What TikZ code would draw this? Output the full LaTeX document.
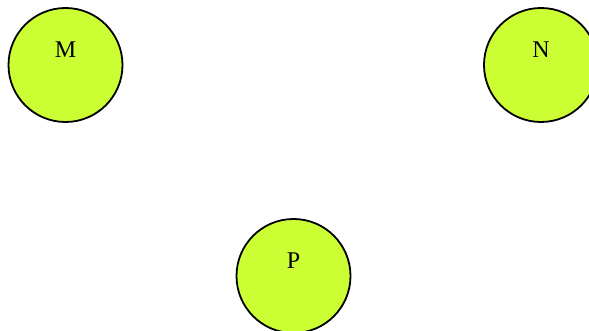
\documentclass[tikz,border=0pt]{standalone}
\usepackage{fontspec}
\setmainfont{Liberation Serif}
\usetikzlibrary{positioning}
\definecolor{limefill}{HTML}{CCFF33}
\begin{document}
\begin{tikzpicture}[x=1pt, y=1pt]
    \tikzset{
        ball/.style={circle, draw=black, line width=1.8pt, fill=limefill,
            minimum size=114pt, inner sep=0pt},
        ball label/.style={font=\fontsize{24}{28}\selectfont, text=black, yshift=15pt}
    }
    \useasboundingbox (0,0) rectangle (589,-331);

    \node[ball, label={[ball label]center:M}] (m) at (65.5,-65) {};
    \node[ball, label={[ball label]center:N}] (n) at (541,-65) {};
    \node[ball, label={[ball label]center:P}] (p) at (293.5,-276) {};
\end{tikzpicture}
\end{document}
